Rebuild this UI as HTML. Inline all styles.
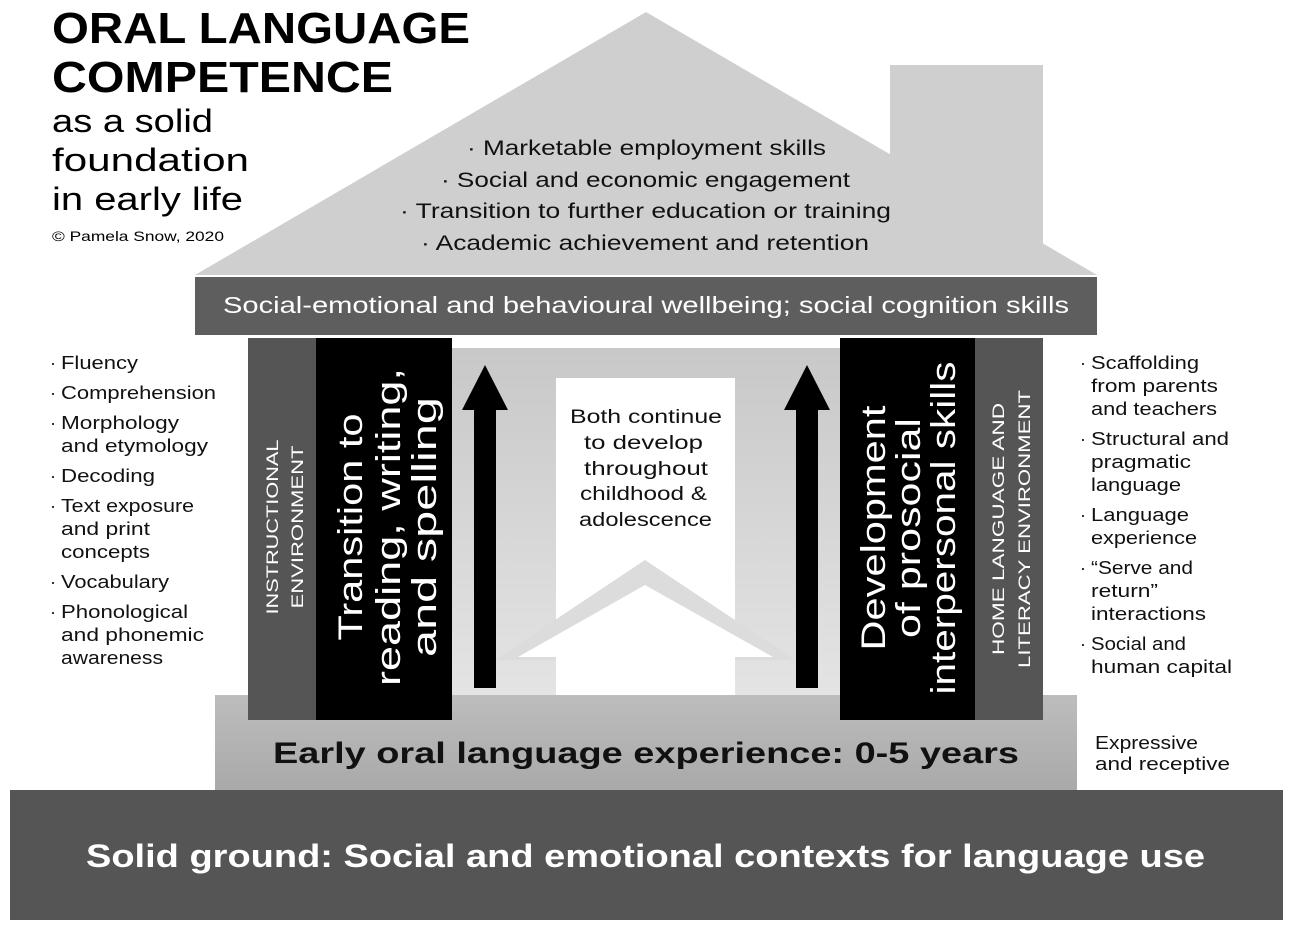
<!DOCTYPE html>
<html><head><meta charset="utf-8"><style>
html,body{margin:0;padding:0;background:#fff;}
svg{display:block;font-family:"Liberation Sans",sans-serif;}
</style></head><body>
<svg width="1289" height="932" viewBox="0 0 1289 932">
<defs>
<linearGradient id="inner" x1="0" y1="0" x2="0" y2="1"><stop offset="0" stop-color="#c8c8c8"/><stop offset="1" stop-color="#e4e4e4"/></linearGradient>
<linearGradient id="fnd" x1="0" y1="0" x2="0" y2="1"><stop offset="0" stop-color="#bdbdbd"/><stop offset="1" stop-color="#a8a8a8"/></linearGradient>
</defs>
<rect x="890" y="65" width="153" height="200" fill="#cfcfcf"/>
<polygon points="646,12 1097,275 195,275" fill="#cfcfcf"/>
<g font-size="21" fill="#111">
<text x="467" y="155" textLength="359" lengthAdjust="spacingAndGlyphs">· Marketable employment skills</text>
<text x="441" y="187" textLength="409" lengthAdjust="spacingAndGlyphs">· Social and economic engagement</text>
<text x="400" y="218" textLength="491" lengthAdjust="spacingAndGlyphs">· Transition to further education or training</text>
<text x="421" y="250" textLength="448" lengthAdjust="spacingAndGlyphs">· Academic achievement and retention</text>
</g>
<rect x="195" y="277" width="902" height="58" fill="#5e5e5e"/>
<text x="223" y="313" font-size="23" fill="#fff" textLength="846" lengthAdjust="spacingAndGlyphs">Social-emotional and behavioural wellbeing; social cognition skills</text>
<rect x="452" y="338" width="388" height="357" fill="#fff"/>
<rect x="452" y="348" width="388" height="347" fill="url(#inner)"/>
<rect x="556" y="378" width="179" height="317" fill="#fff"/>
<polygon points="645,560 495,660 795,660" fill="#dcdcdc"/>
<polygon points="645,585 518,657 556,657 556,695 735,695 735,657 773,657" fill="#fff"/>
<g font-size="19" fill="#111">
<text x="570" y="423" textLength="152" lengthAdjust="spacingAndGlyphs">Both continue</text>
<text x="584" y="449" textLength="119" lengthAdjust="spacingAndGlyphs">to develop</text>
<text x="584" y="475" textLength="124" lengthAdjust="spacingAndGlyphs">throughout</text>
<text x="580" y="500" textLength="127" lengthAdjust="spacingAndGlyphs">childhood &amp;</text>
<text x="579" y="526" textLength="133" lengthAdjust="spacingAndGlyphs">adolescence</text>
</g>
<polygon points="485,365 508,410 496,410 496,688 474,688 474,410 462,410" fill="#000"/>
<polygon points="807,365 830,410 818,410 818,688 796,688 796,410 784,410" fill="#000"/>
<rect x="215" y="695" width="862" height="100" fill="url(#fnd)"/>
<text x="273" y="763" font-size="30" font-weight="bold" fill="#111" textLength="746" lengthAdjust="spacingAndGlyphs">Early oral language experience: 0-5 years</text>
<rect x="248" y="338" width="68" height="382" fill="#555"/>
<rect x="316" y="338" width="136" height="382" fill="#000"/>
<rect x="840" y="338" width="135" height="382" fill="#000"/>
<rect x="975" y="338" width="68" height="382" fill="#555"/>
<g transform="translate(282,527) rotate(-90)" fill="#fff" font-size="17" text-anchor="middle">
<text x="0" y="-4" textLength="175" lengthAdjust="spacingAndGlyphs">INSTRUCTIONAL</text><text x="0" y="21" textLength="163" lengthAdjust="spacingAndGlyphs">ENVIRONMENT</text></g>
<g transform="translate(384,527) rotate(-90)" fill="#fff" font-size="34" text-anchor="middle">
<text x="0" y="-22" textLength="227" lengthAdjust="spacingAndGlyphs">Transition to</text><text x="0" y="16" textLength="318" lengthAdjust="spacingAndGlyphs">reading, writing,</text><text x="0" y="52" textLength="260" lengthAdjust="spacingAndGlyphs">and spelling</text></g>
<g transform="translate(907,528) rotate(-90)" fill="#fff" font-size="34" text-anchor="middle">
<text x="0" y="-22" textLength="245" lengthAdjust="spacingAndGlyphs">Development</text><text x="0" y="13" textLength="220" lengthAdjust="spacingAndGlyphs">of prosocial</text><text x="0" y="48" textLength="333" lengthAdjust="spacingAndGlyphs">interpersonal skills</text></g>
<g transform="translate(1009,529) rotate(-90)" fill="#fff" font-size="17" text-anchor="middle">
<text x="0" y="-5" textLength="252" lengthAdjust="spacingAndGlyphs">HOME LANGUAGE AND</text><text x="0" y="21" textLength="278" lengthAdjust="spacingAndGlyphs">LITERACY ENVIRONMENT</text></g>
<rect x="10" y="790" width="1273" height="130" fill="#555"/>
<text x="86" y="867" font-size="32" font-weight="bold" fill="#fff" textLength="1119" lengthAdjust="spacingAndGlyphs">Solid ground: Social and emotional contexts for language use</text>
<g fill="#000">
<text x="52" y="43" font-size="44" font-weight="bold" textLength="418" lengthAdjust="spacingAndGlyphs">ORAL LANGUAGE</text>
<text x="52" y="92" font-size="44" font-weight="bold" textLength="341" lengthAdjust="spacingAndGlyphs">COMPETENCE</text>
<text x="52" y="132" font-size="32" textLength="161" lengthAdjust="spacingAndGlyphs">as a solid</text>
<text x="52" y="171" font-size="32" textLength="197" lengthAdjust="spacingAndGlyphs">foundation</text>
<text x="52" y="210" font-size="32" textLength="191" lengthAdjust="spacingAndGlyphs">in early life</text>
<text x="52" y="241" font-size="14" textLength="172" lengthAdjust="spacingAndGlyphs">© Pamela Snow, 2020</text>
</g>
<g font-size="18" fill="#111">
<text x="50" y="369">·</text><text x="61" y="369" textLength="77" lengthAdjust="spacingAndGlyphs">Fluency</text>
<text x="50" y="399">·</text><text x="61" y="399" textLength="155" lengthAdjust="spacingAndGlyphs">Comprehension</text>
<text x="50" y="429">·</text><text x="61" y="429" textLength="118" lengthAdjust="spacingAndGlyphs">Morphology</text><text x="61" y="452" textLength="147" lengthAdjust="spacingAndGlyphs">and etymology</text>
<text x="50" y="482">·</text><text x="61" y="482" textLength="94" lengthAdjust="spacingAndGlyphs">Decoding</text>
<text x="50" y="512">·</text><text x="61" y="512" textLength="133" lengthAdjust="spacingAndGlyphs">Text exposure</text><text x="61" y="535" textLength="89" lengthAdjust="spacingAndGlyphs">and print</text><text x="61" y="558" textLength="89" lengthAdjust="spacingAndGlyphs">concepts</text>
<text x="50" y="588">·</text><text x="61" y="588" textLength="108" lengthAdjust="spacingAndGlyphs">Vocabulary</text>
<text x="50" y="618">·</text><text x="61" y="618" textLength="127" lengthAdjust="spacingAndGlyphs">Phonological</text><text x="61" y="641" textLength="143" lengthAdjust="spacingAndGlyphs">and phonemic</text><text x="61" y="664" textLength="102" lengthAdjust="spacingAndGlyphs">awareness</text>
</g>
<g font-size="18" fill="#111">
<text x="1080" y="369">·</text><text x="1091" y="369" textLength="108" lengthAdjust="spacingAndGlyphs">Scaffolding</text><text x="1091" y="392" textLength="127" lengthAdjust="spacingAndGlyphs">from parents</text><text x="1091" y="415" textLength="126" lengthAdjust="spacingAndGlyphs">and teachers</text>
<text x="1080" y="445">·</text><text x="1091" y="445" textLength="138" lengthAdjust="spacingAndGlyphs">Structural and</text><text x="1091" y="468" textLength="100" lengthAdjust="spacingAndGlyphs">pragmatic</text><text x="1091" y="491" textLength="90" lengthAdjust="spacingAndGlyphs">language</text>
<text x="1080" y="521">·</text><text x="1091" y="521" textLength="98" lengthAdjust="spacingAndGlyphs">Language</text><text x="1091" y="544" textLength="106" lengthAdjust="spacingAndGlyphs">experience</text>
<text x="1080" y="574">·</text><text x="1091" y="574" textLength="102" lengthAdjust="spacingAndGlyphs">“Serve and</text><text x="1091" y="597" textLength="67" lengthAdjust="spacingAndGlyphs">return”</text><text x="1091" y="620" textLength="115" lengthAdjust="spacingAndGlyphs">interactions</text>
<text x="1080" y="650">·</text><text x="1091" y="650" textLength="95" lengthAdjust="spacingAndGlyphs">Social and</text><text x="1091" y="673" textLength="141" lengthAdjust="spacingAndGlyphs">human capital</text>
<text x="1095" y="749" textLength="103" lengthAdjust="spacingAndGlyphs">Expressive</text><text x="1095" y="770" textLength="135" lengthAdjust="spacingAndGlyphs">and receptive</text>
</g>
</svg>
</body></html>
